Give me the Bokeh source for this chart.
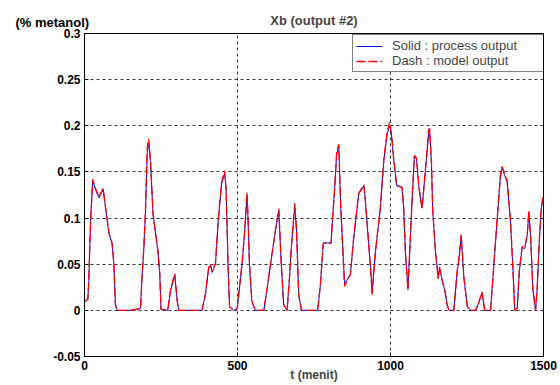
from bokeh.plotting import figure
from bokeh.models import Range1d, FixedTicker, Label, Legend, LegendItem, ColumnDataSource
from bokeh.embed import file_html
from bokeh.resources import INLINE

# ---- data ----
t_min = [0, 3, 11, 14, 20, 27, 36, 47, 61, 69, 80, 90, 96, 101, 107, 150, 183, 188, 194, 199,
         205, 210, 216, 224, 240, 246, 250, 272, 281, 295, 303, 308, 384, 395, 406, 412, 417, 428,
         437, 448, 458, 463, 469, 474, 488, 499, 504, 515, 523, 531, 534, 539, 547, 558, 586, 597,
         608, 624, 635, 643, 651, 662, 670, 676, 687, 693, 700, 709, 762, 771, 780, 782, 806, 809,
         817, 824, 831, 837, 845, 850, 858, 869, 880, 896, 913, 918, 929, 935, 940, 951, 967, 978,
         989, 997, 1003, 1011, 1020, 1038, 1043, 1049, 1057, 1063, 1071, 1078, 1085, 1093, 1103,
         1114, 1125, 1128, 1134, 1138, 1147, 1156, 1160, 1167, 1178, 1185, 1191, 1207, 1218, 1223,
         1231, 1240, 1251, 1262, 1278, 1288, 1299, 1308, 1327, 1338, 1349, 1359, 1365, 1373, 1381,
         1392, 1400, 1406, 1414, 1421, 1430, 1439, 1447, 1452, 1458, 1465, 1474, 1479, 1487, 1493,
         1498, 1500]

process_output = [0.010, 0.010, 0.012, 0.032, 0.097, 0.140, 0.131, 0.122, 0.131, 0.111, 0.083, 0.073,
                  0.050, 0.006, 0.000, 0.000, 0.002, 0.035, 0.068, 0.104, 0.170, 0.182, 0.159, 0.104,
                  0.064, 0.039, 0.001, 0.000, 0.021, 0.038, 0.010, 0.000, 0.000, 0.017, 0.046, 0.049,
                  0.041, 0.050, 0.097, 0.137, 0.149, 0.129, 0.050, 0.004, 0.000, 0.002, 0.017, 0.050,
                  0.083, 0.124, 0.104, 0.050, 0.010, 0.000, 0.000, 0.024, 0.050, 0.086, 0.108, 0.050,
                  0.006, 0.000, 0.035, 0.068, 0.113, 0.086, 0.017, 0.000, 0.000, 0.028, 0.071, 0.073,
                  0.073, 0.091, 0.129, 0.169, 0.178, 0.115, 0.061, 0.028, 0.033, 0.039, 0.079, 0.126,
                  0.135, 0.118, 0.071, 0.046, 0.019, 0.064, 0.111, 0.162, 0.191, 0.200, 0.191, 0.162,
                  0.135, 0.133, 0.111, 0.061, 0.024, 0.064, 0.122, 0.166, 0.164, 0.133, 0.111, 0.151,
                  0.193, 0.195, 0.158, 0.108, 0.064, 0.035, 0.046, 0.035, 0.021, 0.006, 0.000, 0.000,
                  0.042, 0.053, 0.080, 0.035, 0.004, 0.000, 0.000, 0.008, 0.019, 0.000, 0.000, 0.050,
                  0.100, 0.144, 0.155, 0.146, 0.140, 0.097, 0.046, 0.000, 0.002, 0.042, 0.068, 0.067,
                  0.082, 0.106, 0.079, 0.024, 0.000, 0.021, 0.079, 0.111, 0.121, 0.123]

model_output = [0.010, 0.010, 0.012, 0.033, 0.098, 0.142, 0.132, 0.123, 0.132, 0.111, 0.084, 0.073,
                0.051, 0.006, 0.000, 0.000, 0.002, 0.036, 0.069, 0.106, 0.176, 0.186, 0.160, 0.105,
                0.064, 0.040, 0.001, 0.000, 0.022, 0.040, 0.010, 0.000, 0.000, 0.017, 0.047, 0.050,
                0.042, 0.051, 0.098, 0.139, 0.151, 0.130, 0.051, 0.004, 0.000, 0.002, 0.018, 0.051,
                0.084, 0.128, 0.105, 0.051, 0.010, 0.000, 0.000, 0.024, 0.051, 0.087, 0.110, 0.051,
                0.006, 0.000, 0.036, 0.069, 0.116, 0.087, 0.017, 0.000, 0.000, 0.028, 0.072, 0.073,
                0.073, 0.092, 0.130, 0.171, 0.180, 0.116, 0.061, 0.026, 0.033, 0.039, 0.080, 0.127,
                0.136, 0.118, 0.071, 0.045, 0.017, 0.064, 0.112, 0.163, 0.193, 0.204, 0.192, 0.163,
                0.136, 0.133, 0.111, 0.061, 0.022, 0.065, 0.123, 0.168, 0.165, 0.133, 0.110, 0.152,
                0.196, 0.197, 0.159, 0.108, 0.064, 0.034, 0.047, 0.035, 0.021, 0.006, 0.000, 0.000,
                0.043, 0.054, 0.082, 0.035, 0.004, 0.000, 0.000, 0.008, 0.020, 0.000, 0.000, 0.051,
                0.101, 0.146, 0.156, 0.147, 0.141, 0.098, 0.046, 0.000, 0.002, 0.043, 0.069, 0.068,
                0.083, 0.108, 0.079, 0.024, 0.000, 0.022, 0.080, 0.112, 0.122, 0.124]

x_ticks = [0, 500, 1000, 1500]
y_ticks = [-0.05, 0.0, 0.05, 0.1, 0.15, 0.2, 0.25, 0.3]
y_tick_labels = ["-0.05", "0", "0.05", "0.1", "0.15", "0.2", "0.25", "0.3"]

FONT = "Liberation Sans"

p = figure(width=560, height=385, output_backend="svg", toolbar_location=None,
           x_range=Range1d(0, 1500), y_range=Range1d(-0.05, 0.3),
           min_border_left=84, min_border_right=17, min_border_top=33, min_border_bottom=29)

p.title.text = "Xb (output #2)"
p.title.align = "center"
p.title.text_font = FONT
p.title.text_font_size = "13px"
p.title.text_font_style = "bold"
p.title.standoff = -18

p.outline_line_color = "black"
p.outline_line_width = 1
p.background_fill_color = "white"
p.border_fill_color = "white"

for ax in (p.xaxis[0], p.yaxis[0]):
    ax.axis_line_color = "black"
    ax.major_tick_line_color = "black"
    ax.major_tick_in = 4
    ax.major_tick_out = 0
    ax.minor_tick_line_color = None
    ax.major_label_text_font = FONT
    ax.major_label_text_font_size = "12px"
    ax.major_label_text_font_style = "bold"
    ax.major_label_text_color = "black"

p.xaxis.ticker = FixedTicker(ticks=x_ticks)
p.yaxis.ticker = FixedTicker(ticks=y_ticks)
p.yaxis.major_label_overrides = {v: s for v, s in zip(y_ticks, y_tick_labels)}
p.xaxis.major_label_standoff = 4
p.yaxis.major_label_standoff = 4

p.xaxis.axis_label = "t (menit)"
p.xaxis.axis_label_text_font = FONT
p.xaxis.axis_label_text_font_size = "12px"
p.xaxis.axis_label_text_font_style = "bold"
p.xaxis.axis_label_standoff = -5

for g in (p.xgrid[0], p.ygrid[0]):
    g.grid_line_color = "#333333"
    g.grid_line_dash = "3 3"
    g.grid_line_width = 1

src = ColumnDataSource(dict(t=t_min, proc=process_output, model=model_output))
r_proc = p.line("t", "proc", source=src, line_color="blue", line_width=1)
r_model = p.line("t", "model", source=src, line_color="red", line_width=1.3, line_dash="9 3")

legend = Legend(items=[LegendItem(label="Solid : process output", renderers=[r_proc]),
                       LegendItem(label="Dash : model output", renderers=[r_model])],
                location=(268, 284))
legend.border_line_color = "black"
legend.border_line_width = 1
legend.background_fill_color = "white"
legend.background_fill_alpha = 1
legend.label_text_font = FONT
legend.label_text_font_size = "13px"
legend.glyph_width = 26
legend.glyph_height = 14
legend.label_height = 14
legend.label_width = 152
legend.label_standoff = 10
legend.spacing = 0
legend.padding = 3
legend.margin = 0
p.add_layout(legend)

# unit label of the y axis, placed in the top side panel (not clipped by the frame)
ylab = Label(x=-69, y=4, x_units="screen", y_units="screen", text="(% metanol)",
             text_baseline="bottom", text_font=FONT, text_font_size="13px",
             text_font_style="bold", text_color="black")
p.add_layout(ylab, "above")

open("out.html", "w").write(file_html(p, INLINE))
